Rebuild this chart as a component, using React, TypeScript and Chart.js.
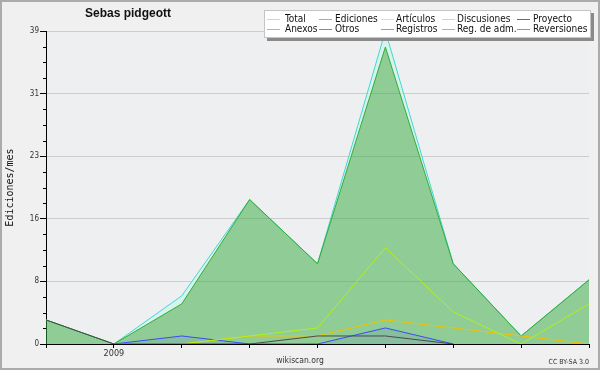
import React, { useEffect, useRef } from 'react';
import { Chart, registerables } from 'chart.js';

Chart.register(...registerables);

// ---- data ----
const months = ['2008-12', '2009-01', '2009-02', '2009-03', '2009-04', '2009-05', '2009-06', '2009-07', '2009-08'];
const monthTickLabels = ['', '2009', '', '', '', '', '', '', ''];
const yTickLabels = ['0', '8', '16', '23', '31', '39'];
const yMax = 39;

const total = [3, 0, 6, 18, 10, 39, 10, 1, 8];
const ediciones = [3, 0, 5, 18, 10, 37, 10, 1, 8];
const articulos = [null, 0, 0, 1, 2, 12, 4, 0, 5];
const discusiones = [null, null, 0, 1, 1, 3, 2, 1, 0];
const proyecto = [3, 0, 0, 0, 1, 1, 0, null, null];
const anexos = [null, null, null, null, null, null, null, null, null];
const otros = [null, null, null, null, null, null, null, null, null];
const registros = [null, 0, 1, 0, 0, 2, 0, null, null];
const regAdm = [null, null, null, null, null, null, null, null, null];
const reversiones = [null, null, null, null, null, null, null, null, null];

const seriesNames = ['Total', 'Ediciones', 'Artículos', 'Discusiones', 'Proyecto', 'Anexos', 'Otros', 'Registros', 'Reg. de adm.', 'Reversiones'];
const seriesColors = ['#3fd9d2', '#35ad35', '#b4ee1c', '#f2c200', '#4a4a4a', '#f08040', '#7f3fdf', '#3a4cf5', '#c050e0', '#e03030'];
const legendSwatchColors = ['#a6e6e4', '#80c880', '#cdf27a', '#f4d66a', '#6a6a6a', '#f2a070', '#9a70e6', '#8a96f2', '#d890e8', '#e87070'];

const chartTitle = 'Sebas pidgeott';
const yAxisTitle = 'Ediciones/mes';
const siteText = 'wikiscan.org';
const licenseText = 'CC BY-SA 3.0';

const COND = '"DejaVu Sans Condensed", "DejaVu Sans"';

const framePlugin = {
  id: 'frame',
  beforeDraw(chart: any) {
    const { ctx, width, height, chartArea } = chart;
    ctx.save();
    ctx.fillStyle = '#f0f0f0';
    ctx.fillRect(0, 0, width, height);
    ctx.fillStyle = '#eeeff1';
    ctx.fillRect(chartArea.left, chartArea.top, chartArea.right - chartArea.left, chartArea.bottom - chartArea.top);
    ctx.strokeStyle = '#ababab';
    ctx.lineWidth = 2;
    ctx.strokeRect(1, 1, width - 2, height - 2);
    ctx.restore();
  },
  afterDraw(chart: any) {
    const { ctx, chartArea } = chart;
    const ys = chart.scales.y;
    ctx.save();
    // minor ticks on y axis
    ctx.strokeStyle = '#000';
    ctx.lineWidth = 1;
    ctx.beginPath();
    ys.ticks.forEach((t: any, i: number) => {
      if (i % 4 !== 0) {
        const py = Math.round(ys.getPixelForValue(t.value)) + 0.5;
        ctx.moveTo(chartArea.left - 3, py);
        ctx.lineTo(chartArea.left, py);
      }
    });
    ctx.stroke();

    // title
    ctx.fillStyle = '#111';
    ctx.font = 'bold 12px "Liberation Sans"';
    ctx.textAlign = 'center';
    ctx.textBaseline = 'middle';
    ctx.fillText(chartTitle, 128, 14);

    // legend
    const bx = 264, by = 10, bw = 327, bh = 28;
    ctx.fillStyle = '#8a8a8a';
    ctx.fillRect(bx + 3, by + 3, bw, bh);
    ctx.fillStyle = '#ffffff';
    ctx.fillRect(bx, by, bw, bh);
    ctx.strokeStyle = '#c4c4c4';
    ctx.lineWidth = 1;
    ctx.strokeRect(bx + 0.5, by + 0.5, bw - 1, bh - 1);
    const swX = [267, 319, 381, 442, 517];
    const txX = [285, 335, 396, 457, 533];
    const rowY = [19, 29];
    ctx.font = '10px ' + COND;
    ctx.textAlign = 'left';
    ctx.textBaseline = 'middle';
    seriesNames.forEach((name, i) => {
      const col = i % 5;
      const row = Math.floor(i / 5);
      const y = rowY[row] + 0.5;
      ctx.strokeStyle = legendSwatchColors[i];
      ctx.beginPath();
      ctx.moveTo(swX[col], y);
      ctx.lineTo(swX[col] + 13, y);
      ctx.stroke();
      ctx.fillStyle = '#111';
      ctx.fillText(name, txX[col], rowY[row] + 0.5);
    });

    // footer
    ctx.fillStyle = '#333';
    ctx.font = '8.5px ' + COND;
    ctx.textAlign = 'center';
    ctx.fillText(siteText, 300, 361);
    ctx.font = '7px ' + COND;
    ctx.textAlign = 'right';
    ctx.fillText(licenseText, 589, 362);
    ctx.restore();
  },
};

function line(label: string, data: any[], color: string, extra: any = {}) {
  return {
    label,
    data,
    borderColor: color,
    backgroundColor: color,
    borderWidth: 1,
    pointRadius: 0,
    pointHoverRadius: 0,
    tension: 0,
    fill: false,
    spanGaps: false,
    order: 0,
    ...extra,
  };
}

export default function App() {
  const ref = useRef<HTMLCanvasElement | null>(null);
  useEffect(() => {
    if (!ref.current) return;
    const chart = new Chart(ref.current, {
      type: 'line',
      data: {
        labels: months,
        datasets: [
          line(seriesNames[0], total, seriesColors[0], { fill: '+1', backgroundColor: 'rgba(205,245,235,0.7)', order: 2 }),
          line(seriesNames[1], ediciones, seriesColors[1], { fill: 'origin', backgroundColor: 'rgba(50,170,60,0.5)', order: 1 }),
          line(seriesNames[2], articulos, seriesColors[2]),
          line(seriesNames[3], discusiones, seriesColors[3]),
          line(seriesNames[4], proyecto, seriesColors[4], { order: -1 }),
          line(seriesNames[5], anexos, seriesColors[5]),
          line(seriesNames[6], otros, seriesColors[6]),
          line(seriesNames[7], registros, seriesColors[7], { fill: 'origin', backgroundColor: 'rgba(60,70,255,0.1)' }),
          line(seriesNames[8], regAdm, seriesColors[8]),
          line(seriesNames[9], reversiones, seriesColors[9]),
        ],
      },
      options: {
        responsive: false,
        animation: false,
        devicePixelRatio: 1,
        layout: { padding: { top: 31, right: 11, bottom: 0, left: 0 } },
        plugins: {
          legend: { display: false },
          title: { display: false },
          tooltip: { enabled: false },
        },
        events: [],
        scales: {
          x: {
            type: 'category',
            offset: false,
            grid: { drawOnChartArea: false, drawTicks: true, tickLength: 4, tickColor: '#000' },
            border: { color: '#000', width: 1 },
            ticks: {
              autoSkip: false,
              maxRotation: 0,
              padding: 0,
              color: '#333',
              font: { family: COND, size: 9 },
              callback: (_v: any, i: number) => monthTickLabels[i],
            },
            afterFit: (s: any) => { s.height = 26; },
          },
          y: {
            min: 0,
            max: yMax,
            afterBuildTicks: (s: any) => {
              const arr = [];
              for (let i = 0; i <= 20; i++) arr.push({ value: (i * yMax) / 20 });
              s.ticks = arr;
            },
            grid: {
              drawTicks: true,
              tickLength: 6,
              color: (c: any) => (c.index % 4 === 0 && c.index !== 0 ? '#cdcdcd' : 'rgba(0,0,0,0)'),
              tickColor: (c: any) => (c.index % 4 === 0 ? '#000' : 'rgba(0,0,0,0)'),
            },
            border: { color: '#000', width: 1 },
            ticks: {
              padding: 1,
              color: '#333',
              font: { family: COND, size: 8 },
              callback: (_v: any, i: number) => (i % 4 === 0 ? yTickLabels[i / 4] : ''),
            },
            title: {
              display: true,
              text: yAxisTitle,
              color: '#111',
              font: { family: 'DejaVu Sans Mono', size: 10 },
              padding: { top: 4, bottom: 0 },
            },
            afterFit: (s: any) => { s.width = 46; },
          },
        },
      } as any,
      plugins: [framePlugin],
    });
    return () => chart.destroy();
  }, []);
  return (
    <div style={{ position: 'fixed', left: 0, top: 0, width: 600, height: 370 }}>
      <canvas ref={ref} width={600} height={370} style={{ display: 'block', width: 600, height: 370 }} />
    </div>
  );
}
